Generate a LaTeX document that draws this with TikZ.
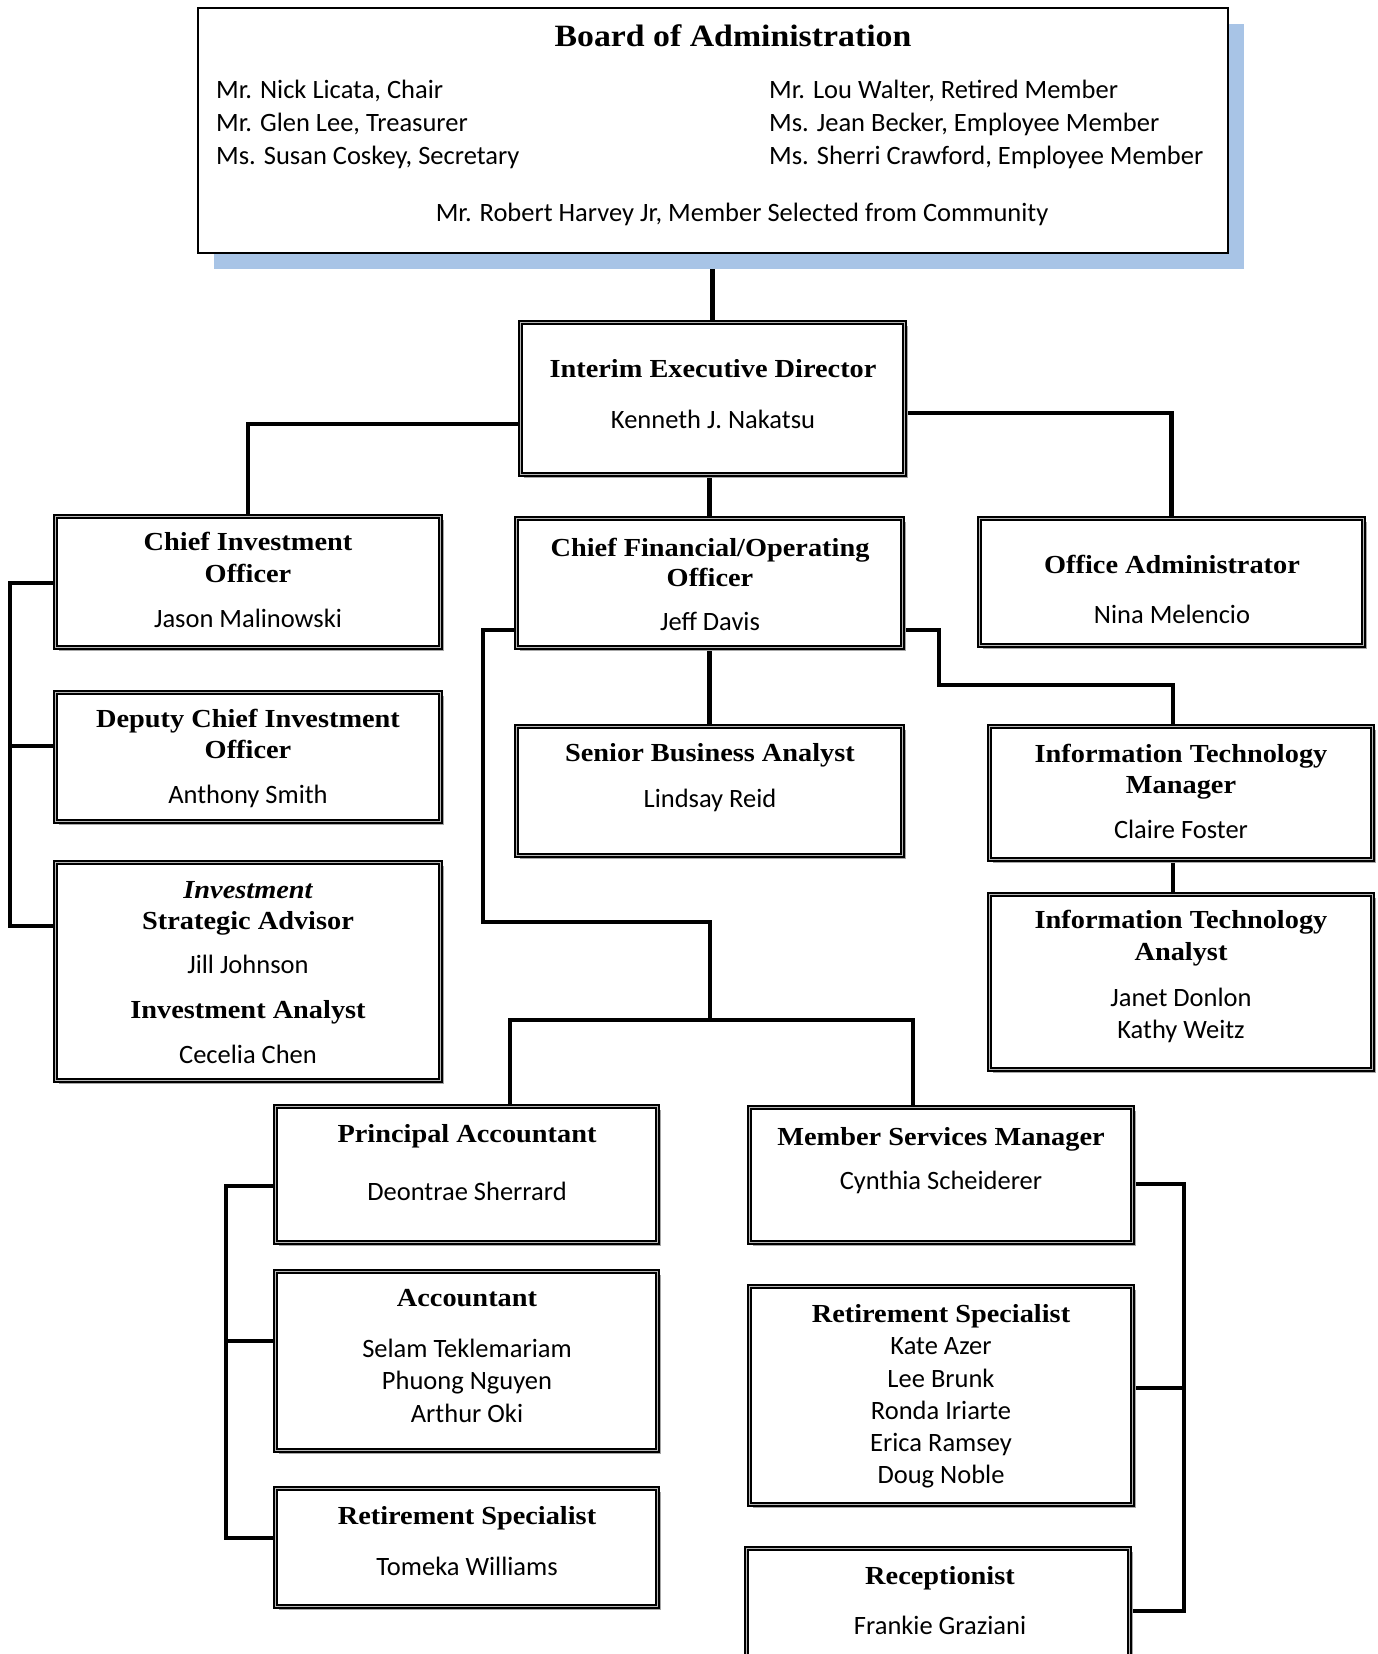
\documentclass[tikz,border=0pt]{standalone}
\usepackage{fontspec}
\setmainfont{Carlito}
\newfontfamily\serifttl[FakeStretch=1.09]{Liberation Serif}
\usetikzlibrary{shadows}
\definecolor{boardblue}{RGB}{168,196,230}
\newcommand\ttlf{\serifttl\bfseries\fontsize{26}{30}\selectfont}
\newcommand\ttli{\serifttl\bfseries\itshape\fontsize{26}{30}\selectfont}
\newcommand\nmf{\fontsize{26.5}{30}\selectfont}
\newcommand\bdt{\serifttl\bfseries\fontsize{31}{36}\selectfont}
\pgfdeclarelayer{bg}
\pgfsetlayers{bg,main}
\tikzset{
 orgbox/.style={draw=black, line width=2pt, double=gray!55, double distance=1.4pt, fill=white, inner sep=0pt,
   drop shadow={shadow xshift=3pt, shadow yshift=-3pt, fill=gray!70, opacity=1}},
 boardbox/.style={draw=black, line width=2pt, fill=white, inner sep=0pt,
   drop shadow={shadow xshift=16pt, shadow yshift=-16pt, fill=boardblue, opacity=1}},
 conn/.style={draw=black, line width=4.8pt},
 txt/.style={anchor=base, inner sep=0pt},
 txtl/.style={anchor=base west, inner sep=0pt},
}
\newcommand\obox[6]{%
 \pgfmathsetmacro\obw{#5-#3-5}%
 \pgfmathsetmacro\obh{#6-#4-5}%
 \node[#1, minimum width=\obw pt, minimum height=\obh pt] (#2) at ({(#3+#5)/2},{(#4+#6)/2}) {};}
\newcommand\orgline[4]{\node[txt] (#1) at (#2,#3) {#4};}
\begin{document}
\begin{tikzpicture}[x=1pt,y=-1pt]
\path[use as bounding box, clip] (0,0) rectangle (1377,1654);

% boxes
\obox{boardbox}{board}{195}{6}{1230}{255}
\obox{orgbox}{ied}{518}{320}{907}{477}
\obox{orgbox}{cio}{53}{514}{443}{650}
\obox{orgbox}{dcio}{53}{690}{443}{824}
\obox{orgbox}{isa}{53}{860}{443}{1083}
\obox{orgbox}{cfo}{514}{516}{905}{650}
\obox{orgbox}{oa}{977}{516}{1366}{648}
\obox{orgbox}{sba}{514}{724}{905}{858}
\obox{orgbox}{itm}{987}{724}{1375}{862}
\obox{orgbox}{ita}{987}{892}{1375}{1072}
\obox{orgbox}{pa}{273}{1104}{660}{1245}
\obox{orgbox}{acc}{273}{1269}{660}{1453}
\obox{orgbox}{rsl}{273}{1486}{660}{1609}
\obox{orgbox}{msm}{747}{1105}{1135}{1245}
\obox{orgbox}{rsr}{747}{1284}{1135}{1507}
\obox{orgbox}{rec}{744}{1546}{1132}{1700}

% board text
\orgline{bt}{733}{47}{\bdt Board of Administration}
\node[txtl] (b1) at (216,99) {\nmf Mr. Nick Licata, Chair};
\node[txtl] (b2) at (216,131) {\nmf Mr. Glen Lee, Treasurer};
\node[txtl] (b3) at (216,164) {\nmf Ms. Susan Coskey, Secretary};
\node[txtl] (b4) at (769,99) {\nmf Mr. Lou Walter, Retired Member};
\node[txtl] (b5) at (769,131) {\nmf Ms. Jean Becker, Employee Member};
\node[txtl] (b6) at (769,164) {\nmf Ms. Sherri Crawford, Employee Member};
\orgline{b7}{742}{221}{\nmf Mr. Robert Harvey Jr, Member Selected from Community}

% box texts
\orgline{t1}{713}{377}{\ttlf Interim Executive Director}
\orgline{t2}{713}{428}{\nmf Kenneth J. Nakatsu}

\orgline{t3}{248}{550}{\ttlf Chief Investment}
\orgline{t4}{248}{582}{\ttlf Officer}
\orgline{t5}{248}{627}{\nmf Jason Malinowski}

\orgline{t6}{248}{727}{\ttlf Deputy Chief Investment}
\orgline{t7}{248}{758}{\ttlf Officer}
\orgline{t8}{248}{803}{\nmf Anthony Smith}

\orgline{t9}{248}{898}{\ttli Investment}
\orgline{t10}{248}{929}{\ttlf Strategic Advisor}
\orgline{t11}{248}{973}{\nmf Jill Johnson}
\orgline{t12}{248}{1018}{\ttlf Investment Analyst}
\orgline{t13}{248}{1063}{\nmf Cecelia Chen}

\orgline{t14}{710}{556}{\ttlf Chief Financial/Operating}
\orgline{t15}{710}{586}{\ttlf Officer}
\orgline{t16}{710}{630}{\nmf Jeff Davis}

\orgline{t17}{1172}{573}{\ttlf Office Administrator}
\orgline{t18}{1172}{623}{\nmf Nina Melencio}

\orgline{t19}{710}{761}{\ttlf Senior Business Analyst}
\orgline{t20}{710}{807}{\nmf Lindsay Reid}

\orgline{t21}{1181}{762}{\ttlf Information Technology}
\orgline{t22}{1181}{793}{\ttlf Manager}
\orgline{t23}{1181}{838}{\nmf Claire Foster}

\orgline{t24}{1181}{928}{\ttlf Information Technology}
\orgline{t25}{1181}{960}{\ttlf Analyst}
\orgline{t26}{1181}{1006}{\nmf Janet Donlon}
\orgline{t27}{1181}{1038}{\nmf Kathy Weitz}

\orgline{t28}{467}{1142}{\ttlf Principal Accountant}
\orgline{t29}{467}{1200}{\nmf Deontrae Sherrard}

\orgline{t30}{467}{1306}{\ttlf Accountant}
\orgline{t31}{467}{1357}{\nmf Selam Teklemariam}
\orgline{t32}{467}{1389}{\nmf Phuong Nguyen}
\orgline{t33}{467}{1422}{\nmf Arthur Oki}

\orgline{t34}{467}{1524}{\ttlf Retirement Specialist}
\orgline{t35}{467}{1575}{\nmf Tomeka Williams}

\orgline{t36}{941}{1145}{\ttlf Member Services Manager}
\orgline{t37}{941}{1189}{\nmf Cynthia Scheiderer}

\orgline{t38}{941}{1322}{\ttlf Retirement Specialist}
\orgline{t39}{941}{1354}{\nmf Kate Azer}
\orgline{t40}{941}{1387}{\nmf Lee Brunk}
\orgline{t41}{941}{1419}{\nmf Ronda Iriarte}
\orgline{t42}{941}{1451}{\nmf Erica Ramsey}
\orgline{t43}{941}{1483}{\nmf Doug Noble}

\orgline{t44}{940}{1584}{\ttlf Receptionist}
\orgline{t45}{940}{1634}{\nmf Frankie Graziani}

% bend points
\coordinate (k1) at (0,424);
\coordinate (k2) at (0,413);
\coordinate (k3) at (939,630);
\coordinate (k4) at (1173,685);
\coordinate (k5) at (483,922);
\coordinate (k6) at (710,1020);
\coordinate (k7) at (510,1020);
\coordinate (k8) at (913,1020);
\coordinate (k9) at (10,583);
\coordinate (k10) at (0,746);
\coordinate (k11) at (0,926);
\coordinate (k12) at (226,1186);
\coordinate (k13) at (0,1341);
\coordinate (k14) at (0,1538);
\coordinate (k15) at (1184,1184);
\coordinate (k16) at (0,1388);
\coordinate (k17) at (0,1611);

\begin{pgfonlayer}{bg}
\fill[white] (0,0) rectangle (1377,1654);
\draw[conn] (board.south) -- (board.south |- ied.north);
\draw[conn] (ied.west |- k1) -| (cio.north);
\draw[conn] (ied.east |- k2) -| (oa.north);
\draw[conn] (cfo.north |- ied.south) -- (cfo.north);
\draw[conn] (cfo.south) -- (cfo.south |- sba.north);
\draw[conn] (cfo.east |- k3) -- (k3) |- (k4) -- (k4 |- itm.north);
\draw[conn] (k4 |- itm.south) -- (k4 |- ita.north);
\draw[conn] (cfo.west |- k3) -| (k5) -| (k6);
\draw[conn] (k7 |- pa.north) |- (k8) -- (k8 |- msm.north);
\draw[conn] (cio.west |- k9) -- (k9) |- (isa.west |- k11);
\draw[conn] (k9 |- k10) -- (dcio.west |- k10);
\draw[conn] (pa.west |- k12) -- (k12) |- (rsl.west |- k14);
\draw[conn] (k12 |- k13) -- (acc.west |- k13);
\draw[conn] (msm.east |- k15) -- (k15) |- (rec.east |- k17);
\draw[conn] (k15 |- k16) -- (rsr.east |- k16);
\end{pgfonlayer}
\end{tikzpicture}
\end{document}
